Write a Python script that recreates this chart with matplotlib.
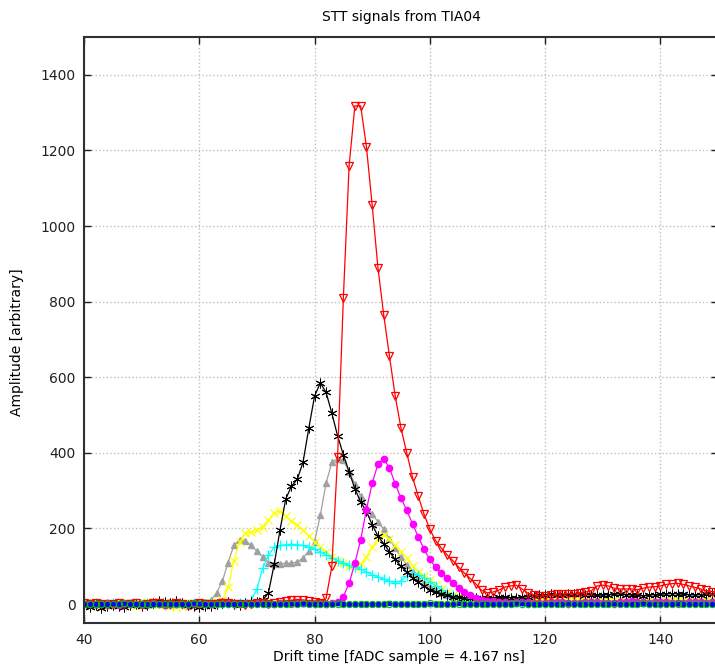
import numpy as np
import matplotlib
matplotlib.use("Agg")
import matplotlib.pyplot as plt
from matplotlib.ticker import MultipleLocator

# drift time in fADC samples, one point per sample
samples = np.arange(40, 151)

red = [2, -1, 3, 0, -2, 1, 3, -1, 0, 2,
       -2, 1, 4, 2, 0, -1, 3, 1, -2, 0,
       2, 1, -1, 0, 3, 2, 1, 0, -2, 1,
       2, 3, 1, 4, 6, 8, 10, 12, 11, 9,
       6, 4, 15, 100, 390, 810, 1160, 1318, 1318, 1210,
       1055, 890, 765, 655, 550, 465, 400, 335, 285, 238,
       198, 168, 148, 130, 115, 98, 82, 68, 53, 36,
       30, 32, 37, 45, 48, 50, 40, 29, 25, 22,
       22, 24, 26, 27, 28, 28, 30, 32, 35, 48,
       50, 48, 42, 40, 40, 40, 38, 42, 45, 46,
       48, 52, 54, 55, 52, 48, 44, 40, 36, 33, 30]

black = [-5, -8, -3, -10, -6, -2, -4, -8, -3, 0,
         -6, -2, 3, 8, 6, 4, 8, 2, -3, -5,
         -8, -4, -6, 0, 2, 5, 0, -2, 3, 5,
         5, 10, 30, 105, 195, 278, 312, 330, 375, 465,
         550, 585, 560, 505, 445, 395, 350, 305, 270, 245,
         210, 180, 160, 138, 118, 100, 85, 70, 58, 47,
         38, 32, 27, 23, 20, 18, 17, 16, 16, 15,
         15, 16, 18, 18, 17, 16, 18, 20, 22, 24,
         25, 26, 25, 24, 26, 28, 27, 25, 24, 23,
         24, 25, 26, 27, 25, 24, 23, 22, 24, 25,
         26, 27, 28, 27, 26, 25, 24, 25, 26, 27, 26]

gray = [3, 0, -3, 2, 5, -2, 0, 4, -1, 2,
        0, -3, 2, 4, 1, -2, 3, 0, -4, 1,
        3, 5, 10, 30, 60, 110, 155, 170, 168, 155,
        140, 125, 110, 105, 107, 108, 108, 112, 122, 140,
        165, 235, 320, 375, 385, 380, 350, 318, 285, 258,
        238, 218, 198, 172, 148, 124, 104, 86, 70, 56,
        45, 36, 29, 23, 18, 15, 12, 10, 9, 8,
        7, 8, 9, 10, 9, 8, 7, 8, 9, 10,
        11, 10, 9, 8, 9, 10, 11, 12, 11, 10,
        9, 8, 9, 10, 11, 10, 9, 8, 9, 10,
        11, 12, 11, 10, 9, 10, 11, 12, 11, 10, 9]

yellow = [0, 3, -2, -5, 1, 4, -3, 2, 0, -4,
          2, 5, 0, -3, 2, -6, -8, -2, 3, 0,
          -2, 1, 3, 5, 10, 45, 115, 165, 188, 190,
          195, 205, 222, 242, 245, 232, 220, 210, 195, 180,
          165, 150, 138, 125, 115, 108, 100, 98, 105, 125,
          150, 172, 182, 172, 155, 138, 122, 100, 85, 75,
          65, 50, 40, 32, 25, 20, 16, 13, 10, 8,
          6, 5, 6, 7, 8, 10, 12, 11, 9, 8,
          10, 12, 14, 13, 11, 10, 12, 13, 11, 9,
          8, 10, 12, 11, 9, 8, 10, 11, 12, 10,
          9, 8, 10, 12, 11, 9, 8, 9, 10, 11, 10]

cyan = [2, -1, 4, 0, -2, 3, 1, -3, 0, 2,
        -1, 2, 0, 3, -2, 1, 4, 0, -1, 2,
        0, -3, 2, 1, 0, 3, -1, 2, 4, 10,
        40, 95, 130, 150, 155, 157, 158, 157, 155, 150,
        145, 138, 130, 122, 115, 108, 103, 98, 92, 85,
        78, 72, 66, 60, 57, 62, 75, 82, 78, 68,
        58, 48, 38, 30, 24, 19, 15, 12, 10, 8,
        6, 5, 4, 5, 6, 5, 4, 3, 4, 5,
        6, 7, 6, 5, 4, 5, 6, 7, 8, 7,
        6, 5, 4, 5, 6, 7, 6, 5, 4, 5,
        6, 7, 8, 7, 6, 5, 6, 7, 6, 5, 4]

magenta = [0, 2, -1, 1, 3, 0, -2, 1, 2, 0,
           -1, 1, 2, 0, -2, 1, 0, 3, 1, -1,
           0, 2, 1, 3, 5, 6, 4, 3, 2, 1,
           2, 3, 1, 0, 2, 4, 3, 5, 4, 2,
           3, 2, 1, 2, 5, 20, 55, 108, 170, 250,
           320, 370, 385, 360, 318, 280, 248, 212, 178, 145,
           118, 98, 82, 70, 55, 42, 32, 24, 17, 12,
           9, 7, 6, 5, 4, 5, 6, 5, 4, 3,
           4, 5, 6, 5, 4, 3, 4, 5, 6, 5,
           4, 3, 4, 5, 6, 7, 6, 5, 4, 5,
           6, 5, 4, 3, 4, 5, 6, 5, 4, 5, 6]

blue = [1, 0, -1, 0, 1, 2, 0, -1, 0, 1,
        0, -1, 1, 0, 2, 1, 0, -1, 0, 1,
        2, 0, -1, 0, 1, 0, 1, 2, 0, -1,
        0, 1, 0, -1, 1, 0, 2, 1, 0, -1,
        0, 1, 0, 1, 2, 0, -1, 0, 1, 0,
        -1, 0, 1, 2, 1, 0, -1, 0, 1, 0,
        1, 0, -1, 0, 1, 2, 0, 1, 0, -1,
        0, 1, 0, -1, 0, 1, 2, 0, 1, 0,
        -1, 0, 1, 0, 2, 1, 0, -1, 0, 1,
        0, 1, 2, 0, -1, 0, 1, 0, 1, 0,
        -1, 0, 1, 2, 0, 1, 0, -1, 0, 1, 0]

green = [0, 1, 0, -1, 0, 1, 0, 2, 1, 0,
         -1, 0, 1, 0, -1, 0, 1, 0, 1, 2,
         0, -1, 0, 1, 0, -1, 0, 1, 0, 0,
         1, 0, -1, 0, 1, 0, 0, 1, 2, 0,
         -1, 0, 1, 0, 0, 1, 0, -1, 0, 1,
         0, 0, 1, 0, -1, 0, 1, 0, 0, 1,
         2, 0, -1, 0, 1, 0, 0, 1, 0, -1,
         0, 1, 0, 0, 1, 2, 0, -1, 0, 1,
         0, 0, 1, 0, -1, 0, 1, 0, 0, 1,
         0, -1, 0, 1, 0, 0, 1, 2, 0, -1,
         0, 1, 0, 0, 1, 0, -1, 0, 1, 0, 0]

fig = plt.figure(figsize=(7.15, 6.65), dpi=100)
ax = fig.add_axes([84 / 715, 42 / 665, 634 / 715, 586 / 665])

lw = 0.9
ax.plot(samples, gray, color='#a0a0a0', lw=lw, marker='^', ms=4.5, mec='#a0a0a0', mfc='#a0a0a0')
ax.plot(samples, yellow, color='#ffff00', lw=lw, marker='x', ms=5.5, mew=0.9)
ax.plot(samples, cyan, color='#00ffff', lw=lw, marker='+', ms=6.5, mew=0.9)
ax.plot(samples, black, color='black', lw=lw, marker=(6, 2, 0), ms=7, mew=0.7)
ax.plot(samples, magenta, color='#ff00ff', lw=lw, marker='o', ms=4.5, mec='#ff00ff', mfc='#ff00ff')
ax.plot(samples, red, color='#ff0000', lw=lw, marker='v', ms=5.5, mfc='none', mew=0.9)
ax.plot(samples, blue, color='#0000ff', lw=lw, marker='s', ms=3, mec='#0000ff', mfc='#0000ff')
ax.plot(samples, green, color='#00c000', lw=0, marker='o', ms=4.5, mfc='none', mew=0.8)

ax.set_xlim(40, 150)
ax.set_ylim(-50, 1500)
ax.xaxis.set_major_locator(MultipleLocator(20))
ax.yaxis.set_major_locator(MultipleLocator(200))
ax.grid(True, color='#c0c0c0', linestyle=':', lw=1)
ax.tick_params(direction='in', top=True, right=True, length=5, width=1,
               labelsize=10, pad=7, colors='#202020')
ax.tick_params(axis='y', pad=6)
for s in ax.spines.values():
    s.set_linewidth(1.5)
    s.set_color('#303030')

fig.text(401 / 715, 1 - 17 / 665, 'STT signals from TIA04', ha='center', va='center', fontsize=10)
fig.text(399 / 715, 1 - 657 / 665, 'Drift time [fADC sample = 4.167 ns]', ha='center', va='center', fontsize=10)
fig.text(17 / 715, 1 - 342 / 665, 'Amplitude [arbitrary]', ha='center', va='center',
         rotation=90, fontsize=10)

fig.savefig('out.png', dpi=100)
